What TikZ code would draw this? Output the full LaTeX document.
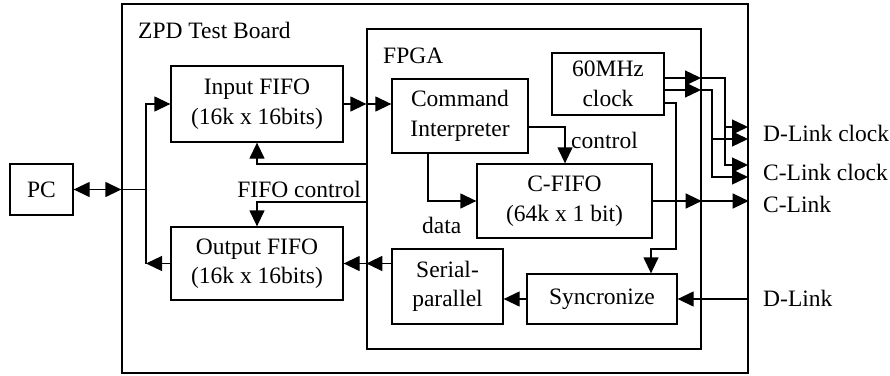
\documentclass[tikz,border=0pt]{standalone}
\usepackage{fontspec}
\setmainfont{Liberation Serif}
\usetikzlibrary{arrows.meta,calc}
\begin{document}
\begin{tikzpicture}[x=1pt,y=-1pt,
  >={Triangle[length=16pt,width=15pt]},
  wire/.style={line width=1.3pt},
  block/.style={draw,line width=1.3pt,align=center,inner sep=0pt},
  lbl/.style={inner sep=0pt},
  font=\fontsize{23.5}{29.5}\selectfont]
\useasboundingbox (0,0) rectangle (890,375);

% containers
\node[block, minimum width=626, minimum height=369] (board) at (435,188.5) {};
\node[block, minimum width=334, minimum height=320] (fpga) at (534,189) {};
\node[lbl, anchor=base west] (boardlbl) at (138,38) {ZPD Test Board};
\node[lbl, anchor=base west] (fpgalbl) at (383,63) {FPGA};

% functional blocks
\node[block, minimum width=63, minimum height=51] (pc) at (41.5,189.5) {PC};
\node[block, minimum width=172, minimum height=76] (infifo) at (257,104) {Input FIFO\\(16k x 16bits)};
\node[block, minimum width=172, minimum height=73] (outfifo) at (257,263.5) {Output FIFO\\(16k x 16bits)};
\node[block, minimum width=136, minimum height=74] (cmd) at (460,116) {Command\\Interpreter};
\node[block, minimum width=112, minimum height=62] (clk) at (608,84) {60MHz\\clock};
\node[block, minimum width=175, minimum height=74] (cfifo) at (564.5,201) {C-FIFO\\(64k x 1 bit)};
\node[block, minimum width=111, minimum height=75] (serpar) at (447.5,286.5) {Serial-\\parallel};
\node[block, minimum width=150, minimum height=50] (sync) at (602,299) {Syncronize};

% external signal labels
\node[lbl, anchor=base west] (dlc) at (763,141) {D-Link clock};
\node[lbl, anchor=base west] (clc) at (763,180) {C-Link clock};
\node[lbl, anchor=base west] (cl) at (763,212) {C-Link};
\node[lbl, anchor=base west] (dl) at (763,306) {D-Link};

% PC link
\coordinate (split) at (146,189.5);
\draw[wire,<->] (pc.east) -- (board.west |- pc.east);
\draw[wire] (board.west |- pc.east) -- (split);
\draw[wire,->] (split) |- (infifo.west);
\draw[wire] (split) -- (split |- outfifo.west);
\draw[wire,->] (outfifo.west) -- (split |- outfifo.west);

% input FIFO to command interpreter
\coordinate (fin) at (fpga.west |- infifo.east);
\draw[wire,->] (infifo.east) -- (fin);
\draw[wire,->] (fin) -- (cmd.west |- infifo.east);

% FIFO control
\coordinate (ictl) at (367,164);
\coordinate (octl) at (367,202);
\draw[wire,->] (ictl) -| (infifo.south);
\draw[wire,->] (octl) -| (outfifo.north);
\node[lbl, anchor=base east] (fifoctl) at (361,197) {FIFO control};

% serial-parallel to output FIFO
\coordinate (fout) at (fpga.west |- outfifo.east);
\draw[wire,->] (serpar.west |- outfifo.east) -- (fout);
\draw[wire,->] (fout) -- (outfifo.east);

% command interpreter to C-FIFO
\draw[wire,->] ($(cmd.south)+(-32,0)$) |- (cfifo.west);
\node[lbl, anchor=base west] (datalbl) at (422,233) {data};
\draw[wire,->] ($(cmd.east)+(0,11)$) -| ($(cfifo.north)+(0.5,0)$);
\node[lbl, anchor=base west] (ctllbl) at (571,148) {control};

% C-FIFO to C-Link
\coordinate (cout) at (fpga.east |- cfifo.east);
\draw[wire,->] (cfifo.east) -- (cout);
\draw[wire,->] (cout) -- (board.east |- cfifo.east);

% clock outputs
\coordinate (ca) at (701,78);
\coordinate (cb) at (701,90);
\coordinate (ra) at (725,78);
\coordinate (rb) at (712,90);
\coordinate (dlk1) at (748,127);
\coordinate (dlk2) at (748,139);
\coordinate (clk1) at (748,165);
\coordinate (clk2) at (748,177);
\draw[wire,->] (clk.east |- ca) -- (ca);
\draw[wire,->] (clk.east |- cb) -- (cb);
\draw[wire,->] (ca) -- (ra) |- (clk1);
\draw[wire,->] (ra |- dlk1) -- (dlk1);
\draw[wire,->] (cb) -- (rb) |- (clk2);
\draw[wire,->] (rb |- dlk2) -- (dlk2);

% clock to synchronizer
\coordinate (cc) at (676,103);
\draw[wire,->] (clk.east |- cc) -- (cc) -- (676,249) -| ($(sync.north)+(49,0)$);

% D-Link input path
\draw[wire,->] (board.east |- sync.east) -- (sync.east);
\draw[wire,->] (sync.west) -- (serpar.east |- sync.west);
\end{tikzpicture}
\end{document}
